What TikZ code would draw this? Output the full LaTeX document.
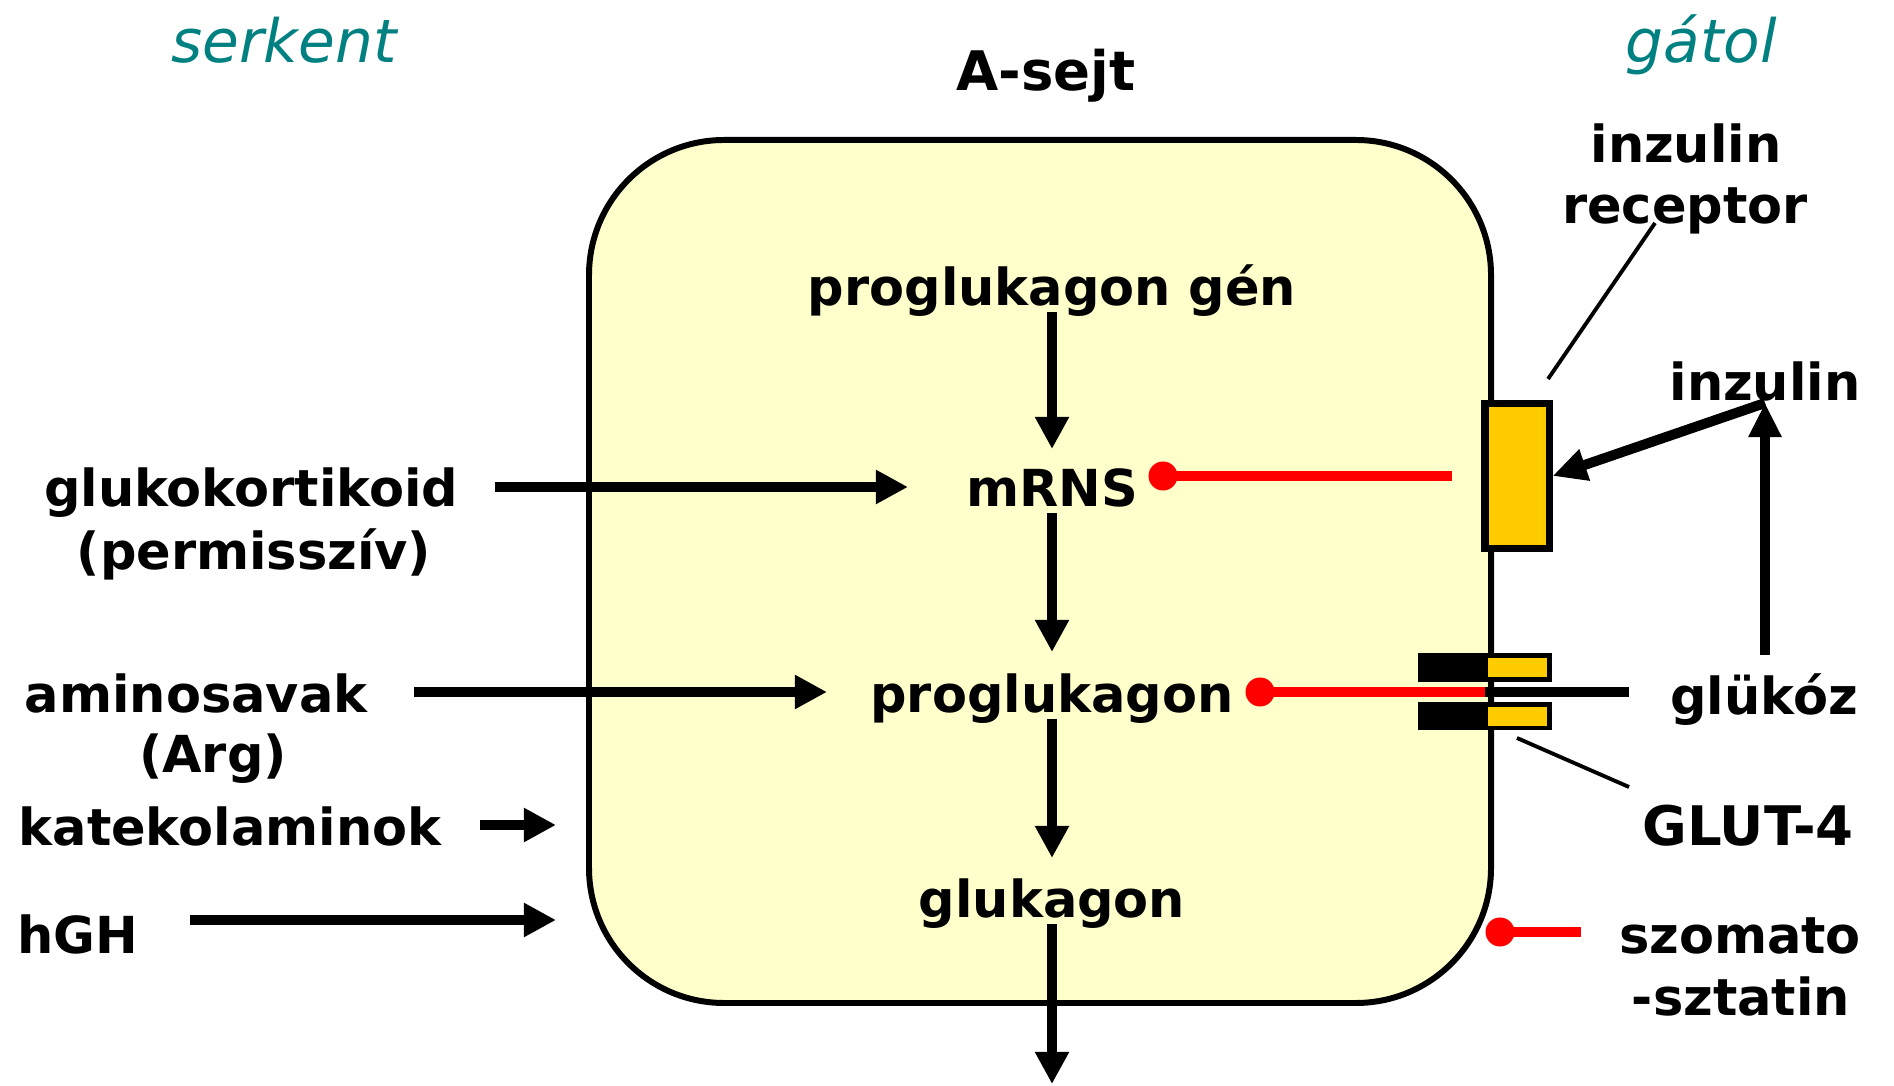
\documentclass[tikz,border=0pt]{standalone}
\usepackage{fontspec}
\setmainfont{DejaVu Sans}
\usetikzlibrary{arrows.meta,calc}
\definecolor{cellfill}{HTML}{FFFFCC}
\definecolor{recyellow}{HTML}{FFCC00}
\definecolor{sidecol}{HTML}{008080}
\begin{document}
\begin{tikzpicture}[x=0.01cm,y=-0.01cm,
  lbl/.style={font=\fontsize{14.5}{17}\selectfont\bfseries, inner sep=0, anchor=base},
  side/.style={font=\fontsize{17}{20}\selectfont\itshape, text=sidecol, inner sep=0, anchor=base},
  arr/.style={line width=2.7pt, -{Triangle[length=0.32cm,width=0.32cm]}},
  bigarr/.style={line width=2.85pt, -{Triangle[length=0.34cm,width=0.31cm]}},
  inhib/.style={red, line width=2.85pt},
  dot/.style={circle, fill=red, minimum size=0.29cm, inner sep=0},
  lead/.style={line width=1.1pt}]
\path[use as bounding box] (0,0) rectangle (1894,1086);

% headings
\node[side] (serk) at (284,63) {serkent};
\node[side] (gat) at (1701,63) {gátol};
\node[lbl, font=\fontsize{15.5}{18}\selectfont\bfseries] (asejt) at (1046,91) {A-sejt};

% the cell
\draw[line width=1.7pt, fill=cellfill, rounded corners=1.35cm] (589,140) rectangle (1491,1003);

% pathway inside the cell
\node[lbl] (gen) at (1052,306) {proglukagon gén};
\node[lbl] (mrns) at (1052,507) {mRNS};
\node[lbl] (prog) at (1052,713) {proglukagon};
\node[lbl] (gluk) at (1052,918) {glukagon};
\coordinate (out) at (1052,1084);
\draw[arr] ($(gen.base)+(0,6)$) -- ($(mrns.base)+(0,-58)$);
\draw[arr] ($(mrns.base)+(0,6)$) -- ($(prog.base)+(0,-61)$);
\draw[arr] ($(prog.base)+(0,6)$) -- ($(gluk.base)+(0,-60)$);
\draw[arr] ($(gluk.base)+(0,6)$) -- (out);

% stimulating factors
\node[lbl] (gk) at (251,507) {glukokortikoid};
\node[lbl] (perm) at (254,570) {(permisszív)};
\node[lbl] (amino) at (196,713) {aminosavak};
\node[lbl] (arg) at (213,773) {(Arg)};
\node[lbl] (kat) at (230,846) {katekolaminok};
\node[lbl] (hgh) at (78,954) {hGH};
\coordinate (katend) at (556,825);
\coordinate (hghend) at (556,920);
\draw[arr] ($(gk.base)+(244,-20)$) -- ($(mrns.base)+(-144,-20)$);
\draw[arr] ($(amino.base)+(218,-21)$) -- ($(prog.base)+(-225,-21)$);
\draw[arr] ($(kat.base)+(250,-21)$) -- (katend);
\draw[arr] ($(hgh.base)+(112,-34)$) -- (hghend);

% insulin receptor
\node[lbl] (inz1) at (1686,163) {inzulin};
\node[lbl] (recl) at (1685,224) {receptor};
\node[draw, line width=2pt, fill=recyellow, minimum width=0.64cm, minimum height=1.45cm, inner sep=0] (rec) at (1517,476) {};
\coordinate (recleadA) at (1548,379);
\coordinate (recleadB) at (1655,223);
\draw[lead] (recleadA) -- (recleadB);

% insulin and glucose
\node[lbl] (inz2) at (1765,401) {inzulin};
\node[lbl] (gluc) at (1764,715) {glükóz};
\coordinate (ins) at (1765,403);
\draw[bigarr] ($(gluc.base)+(1,-60)$) -- (ins);
\draw[bigarr] (ins) -- (rec.east);

% GLUT-4 transporter
\fill (1418,653) rectangle (1552,682);
\fill[recyellow] (1488,658) rectangle (1547,677);
\fill (1418,702) rectangle (1552,730);
\fill[recyellow] (1488,707) rectangle (1547,726);
\node[lbl, font=\fontsize{15.5}{18}\selectfont\bfseries] (glut) at (1748,846) {GLUT-4};
\coordinate (glutA) at (1517,738);
\coordinate (glutB) at (1629,787);
\draw[lead] (glutA) -- (glutB);

% inhibitions
\node[dot] (d1) at (1163,476) {};
\coordinate (d1end) at (1452,476);
\draw[inhib] (d1.center) -- (d1end);

\coordinate (gate) at (1485,692);
\coordinate (gluline) at (1629,692);
\draw[line width=2.85pt] (gate) -- (gluline);
\node[dot] (d2) at (1260,692) {};
\draw[inhib] (d2.center) -- (gate);

\node[lbl] (szo1) at (1740,954) {szomato};
\node[lbl] (szo2) at (1741,1015) {-sztatin};
\node[dot] (d3) at (1500,932) {};
\coordinate (d3end) at (1581,932);
\draw[inhib] (d3.center) -- (d3end);
\end{tikzpicture}
\end{document}
